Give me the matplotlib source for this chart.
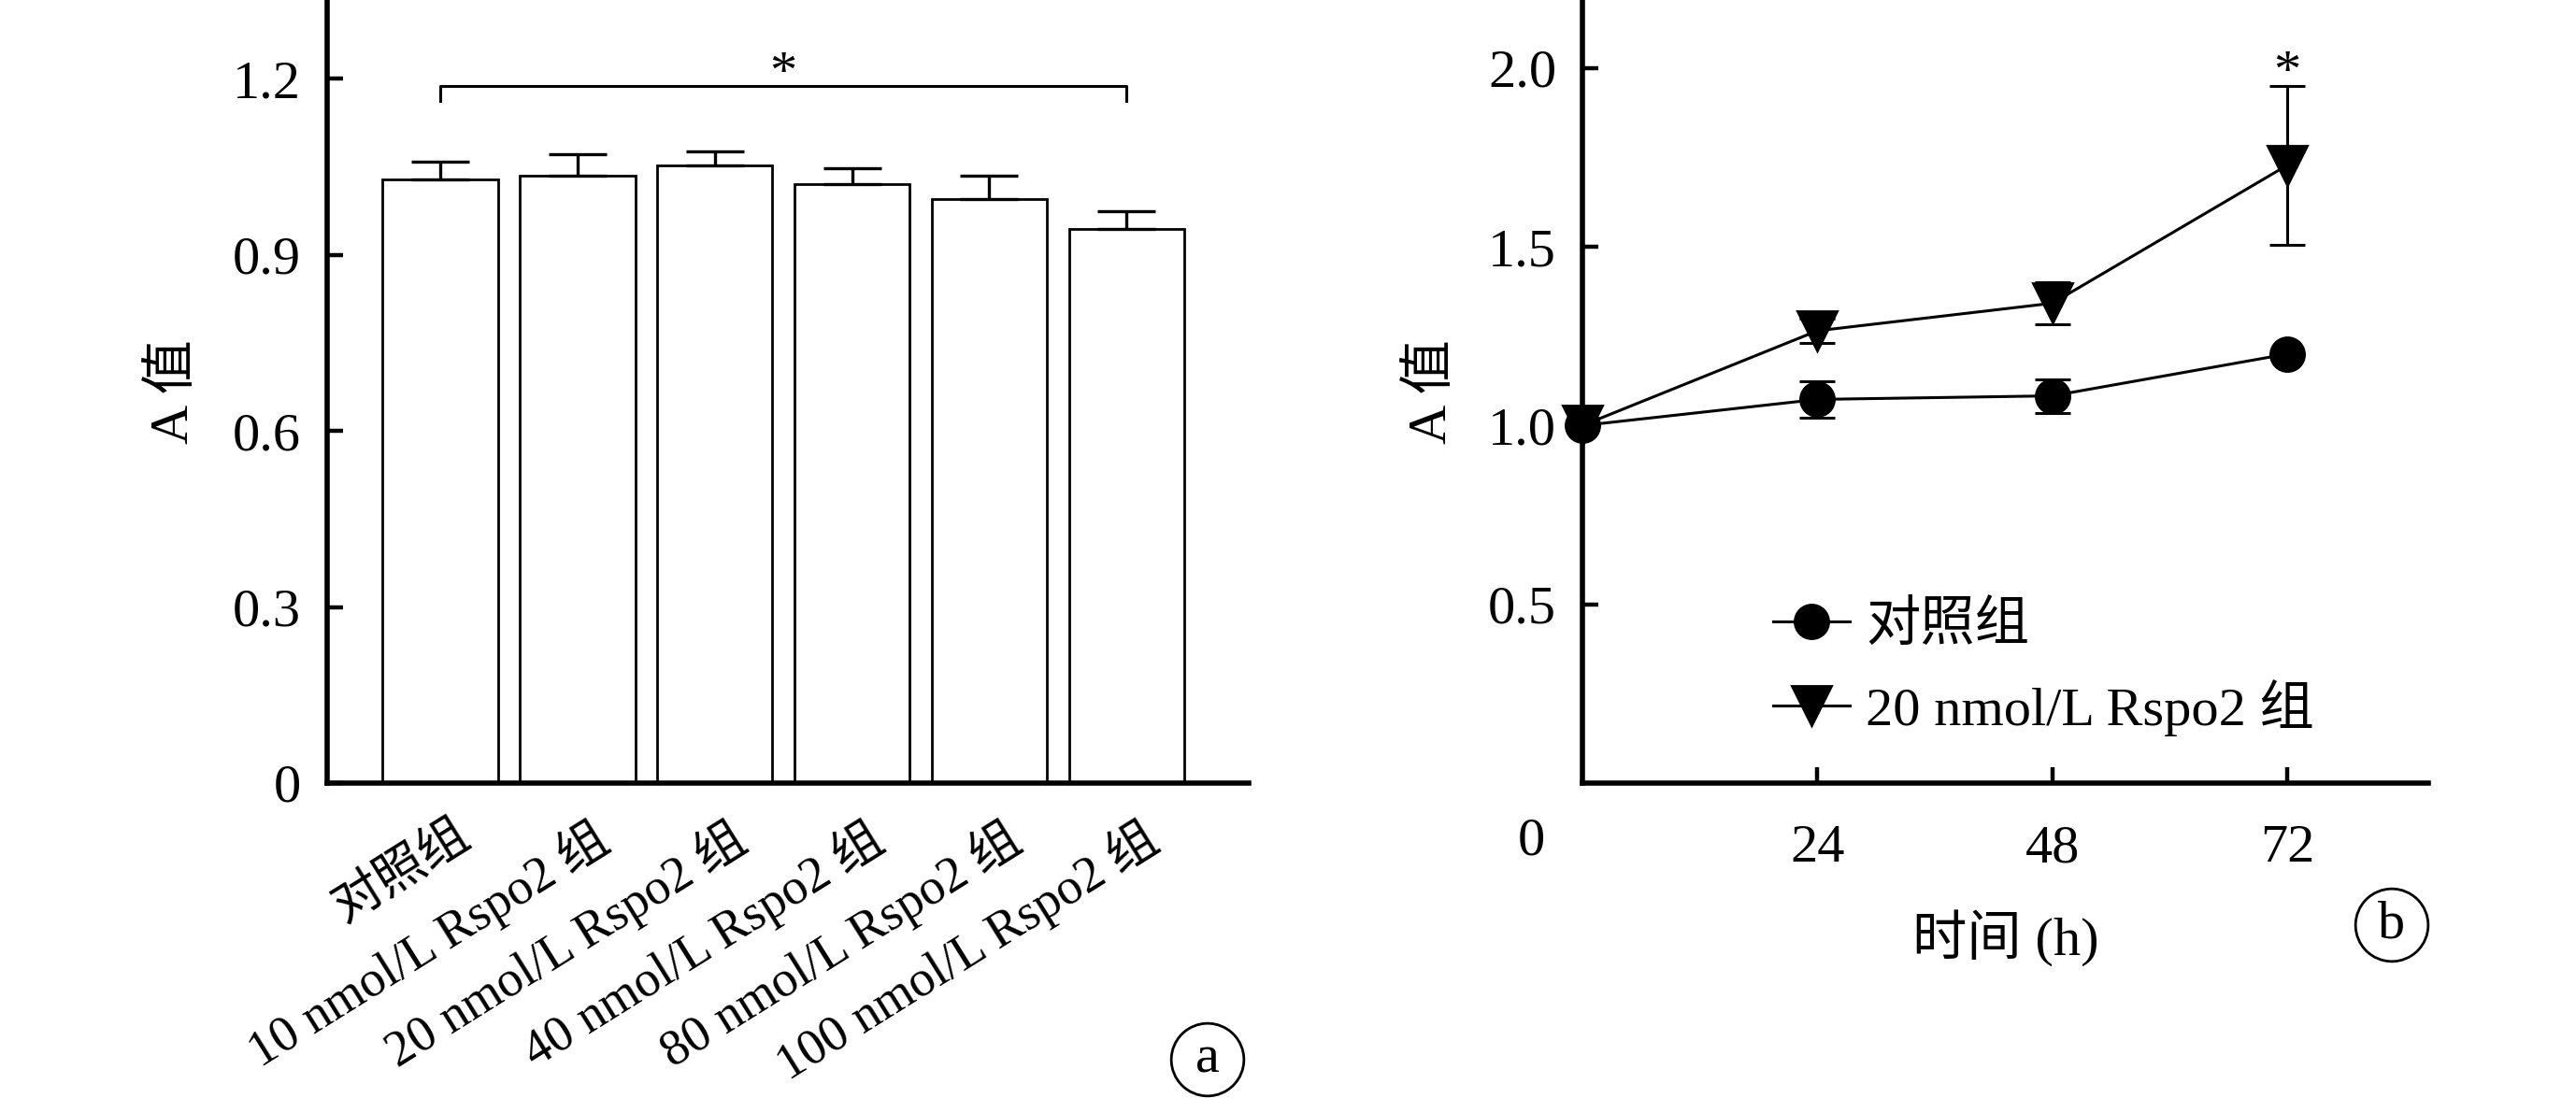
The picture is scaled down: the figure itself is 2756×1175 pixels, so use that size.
import matplotlib
matplotlib.use("Agg")
import matplotlib.pyplot as plt
import matplotlib.transforms as mtransforms
import numpy as np

FONT = ['Liberation Serif', 'Noto Sans CJK SC']
plt.rcParams['font.family'] = FONT
plt.rcParams['axes.unicode_minus'] = False

# ---------------- data ----------------
groups = ['对照组', '10 nmol/L Rspo2 组', '20 nmol/L Rspo2 组',
          '40 nmol/L Rspo2 组', '80 nmol/L Rspo2 组', '100 nmol/L Rspo2 组']
bar_vals = [1.028, 1.035, 1.052, 1.020, 0.995, 0.944]
bar_err = [0.030, 0.036, 0.024, 0.027, 0.040, 0.030]
left_yticks = [0, 0.3, 0.6, 0.9, 1.2]
left_yticklabels = ['0', '0.3', '0.6', '0.9', '1.2']
bracket_y = 1.188
bracket_drop = 0.026

hours = [0, 24, 48, 72]
ctrl_vals = [1.00, 1.073, 1.083, 1.200]
ctrl_err = [0.0, 0.052, 0.047, 0.0]
rspo_vals = [1.00, 1.265, 1.342, 1.728]
rspo_err = [0.0, 0.035, 0.058, 0.222]
right_yticks = [0.5, 1.0, 1.5, 2.0]
right_yticklabels = ['0.5', '1.0', '1.5', '2.0']
right_xticks = [24, 48, 72]
series_names = ['对照组', '20 nmol/L Rspo2 组']

FS = 21
W, H = 2756, 1175
DPI = 200
fig = plt.figure(figsize=(W / DPI, H / DPI), dpi=DPI)

def style_axes(ax):
    for s in ['top', 'right']:
        ax.spines[s].set_visible(False)
    for s in ['left', 'bottom']:
        ax.spines[s].set_linewidth(2.0)
    ax.tick_params(axis='both', direction='in', length=6, width=1.6,
                   labelsize=FS, pad=10)

# ---------------- panel a ----------------
axL = fig.add_axes([350 / W, 1 - 838 / H, (1336 - 350) / W, 838 / H])
style_axes(axL)
x = np.arange(len(groups))
axL.bar(x, bar_vals, width=0.84, color='white', edgecolor='black',
        linewidth=1.0, zorder=2)
axL.errorbar(x, bar_vals, yerr=[np.zeros(len(bar_err)), bar_err], fmt='none',
             ecolor='black', elinewidth=1.2, capsize=11, capthick=1.2, zorder=3)
axL.plot([x[0], x[0], x[-1], x[-1]],
         [bracket_y - bracket_drop, bracket_y, bracket_y, bracket_y - bracket_drop],
         color='black', linewidth=1.1)
axL.text((x[0] + x[-1]) / 2, bracket_y - 0.022, '*', ha='center', va='bottom',
         fontsize=FS)
axL.set_xlim(-0.825, 5.89)
axL.set_ylim(0, 1.334)
axL.set_yticks(left_yticks)
axL.set_yticklabels(left_yticklabels)
axL.set_xticks(x)
axL.set_xticklabels(groups, rotation=32, ha='right', rotation_mode='anchor',
                    fontsize=19.5)
axL.tick_params(axis='x', length=0, pad=11)
offset = mtransforms.ScaledTranslation(0.07, 0, fig.dpi_scale_trans)
for lbl in axL.get_xticklabels():
    lbl.set_transform(lbl.get_transform() + offset)
axL.set_ylabel('A 值', fontsize=FS, labelpad=13)
fig.text(1292 / W, 1 - 1134 / H, 'a', ha='center', va='center', fontsize=FS,
         bbox=dict(boxstyle='circle,pad=0.22', fc='white', ec='black', lw=1.0))

# ---------------- panel b ----------------
axR = fig.add_axes([1693 / W, 1 - 838 / H, (2598 - 1693) / W, 838 / H])
style_axes(axR)
axR.errorbar(hours, ctrl_vals, yerr=ctrl_err, fmt='none', ecolor='black',
             elinewidth=1.1, capsize=7, capthick=1.1, clip_on=False, zorder=2)
axR.errorbar(hours, rspo_vals, yerr=rspo_err, fmt='none', ecolor='black',
             elinewidth=1.1, capsize=7, capthick=1.1, clip_on=False, zorder=2)
axR.plot(hours, ctrl_vals, '-o', color='black', markersize=13, linewidth=1.1,
         clip_on=False, zorder=3, label=series_names[0])
axR.plot(hours, rspo_vals, '-v', color='black', markersize=15, linewidth=1.1,
         clip_on=False, zorder=3, label=series_names[1])
axR.text(hours[-1], rspo_vals[-1] + rspo_err[-1] - 0.035, '*', ha='center',
         va='bottom', fontsize=FS)
axR.set_xlim(0, 86.4)
axR.set_ylim(0, 2.19)
axR.set_yticks(right_yticks)
axR.set_yticklabels(right_yticklabels)
axR.set_xticks(right_xticks)
axR.set_xticklabels([str(h) for h in right_xticks])
axR.tick_params(axis='x', pad=16)
axR.text(-0.06, -0.075, '0', transform=axR.transAxes, ha='center', va='center',
         fontsize=FS)
axR.set_xlabel('时间 (h)', fontsize=FS, labelpad=14)
axR.set_ylabel('A 值', fontsize=FS, labelpad=12)
leg = axR.legend(loc='upper left', bbox_to_anchor=(0.2, 0.26), frameon=False,
                 fontsize=FS, handlelength=1.4, handletextpad=0.3,
                 labelspacing=0.5, borderaxespad=0)
fig.text(2559 / W, 1 - 990 / H, 'b', ha='center', va='center', fontsize=FS,
         bbox=dict(boxstyle='circle,pad=0.22', fc='white', ec='black', lw=1.0))

fig.savefig('out.png', dpi=DPI)
